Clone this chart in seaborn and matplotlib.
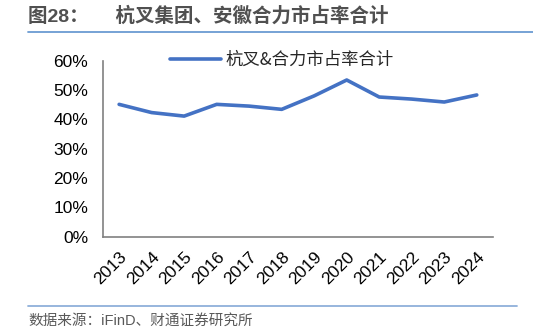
import matplotlib
matplotlib.use("Agg")
import matplotlib.pyplot as plt
import seaborn as sns
import pandas as pd
from matplotlib.lines import Line2D

years = ["2013", "2014", "2015", "2016", "2017", "2018", "2019", "2020", "2021", "2022", "2023", "2024"]
share = [45.1, 42.3, 41.1, 45.1, 44.5, 43.4, 48.0, 53.4, 47.6, 46.9, 45.9, 48.3]
yticks = [0, 10, 20, 30, 40, 50, 60]
series_name = "杭叉&合力市占率合计"
title = "图28：     杭叉集团、安徽合力市占率合计"
source = "数据来源：iFinD、财通证券研究所"

sns.set_theme(style="white")
plt.rcParams['font.family'] = ['Liberation Sans', 'Noto Sans CJK SC', 'DejaVu Sans']

df = pd.DataFrame({"year": years, "share": share})

fig = plt.figure(figsize=(5.33, 3.35), dpi=100)
ax = fig.add_axes([0.193, 0.2934, 0.732, 0.5256])
color = "#4472C4"
sns.lineplot(data=df, x="year", y="share", ax=ax, color=color, linewidth=2.6,
             sort=False, solid_capstyle="round")

ax.set_xlim(-0.5, len(years) - 0.5)
ax.set_ylim(0, 60)
ax.set_yticks(yticks)
ax.set_yticklabels([f"{v}%" for v in yticks], fontsize=12.5, color="#000000")
ax.set_xticks(range(len(years)))
ax.set_xticklabels(years, rotation=45, ha="right", rotation_mode="anchor", fontsize=12.5, color="#000000")
ax.set_xticks([i - 0.5 for i in range(len(years) + 1)], minor=True)
ax.tick_params(axis="x", which="major", length=0, pad=9)
ax.tick_params(axis="x", which="minor", length=4, width=1, color="#808080", direction="out")
ax.tick_params(axis="y", length=4.5, width=1, color="#808080", direction="out", pad=6)
ax.set_xlabel("")
ax.set_ylabel("")
for s in ["top", "right"]:
    ax.spines[s].set_visible(False)
for s in ["left", "bottom"]:
    ax.spines[s].set_color("#808080")
    ax.spines[s].set_linewidth(1.2)
ax.grid(False)

handle = Line2D([], [], color=color, linewidth=2.6, solid_capstyle="round")
leg = ax.legend([handle], [series_name], loc="upper left", bbox_to_anchor=(0.155, 1.095),
                frameon=False, handlelength=2.9, handletextpad=0.25, borderaxespad=0,
                prop={"family": ["Noto Sans CJK SC"], "size": 12.5})

fig.text(28 / 533, 1 - 16 / 335, title, fontsize=14, fontweight="bold", color="#505050",
         va="center", ha="left", family=["Liberation Sans", "Noto Sans CJK SC"])
fig.add_artist(Line2D([28 / 533, 1.0], [1 - 32 / 335, 1 - 32 / 335], color="#6B9BD2", linewidth=1.3,
                      transform=fig.transFigure))
fig.add_artist(Line2D([28 / 533, 517 / 533], [1 - 306 / 335, 1 - 306 / 335], color="#8FB0DA", linewidth=1.3,
                      transform=fig.transFigure))
fig.text(28 / 533, 1 - 321 / 335, source, fontsize=10.5, color="#595959",
         va="center", ha="left", family=["Liberation Sans", "Noto Sans CJK SC"])

fig.savefig("out.png", dpi=100)
